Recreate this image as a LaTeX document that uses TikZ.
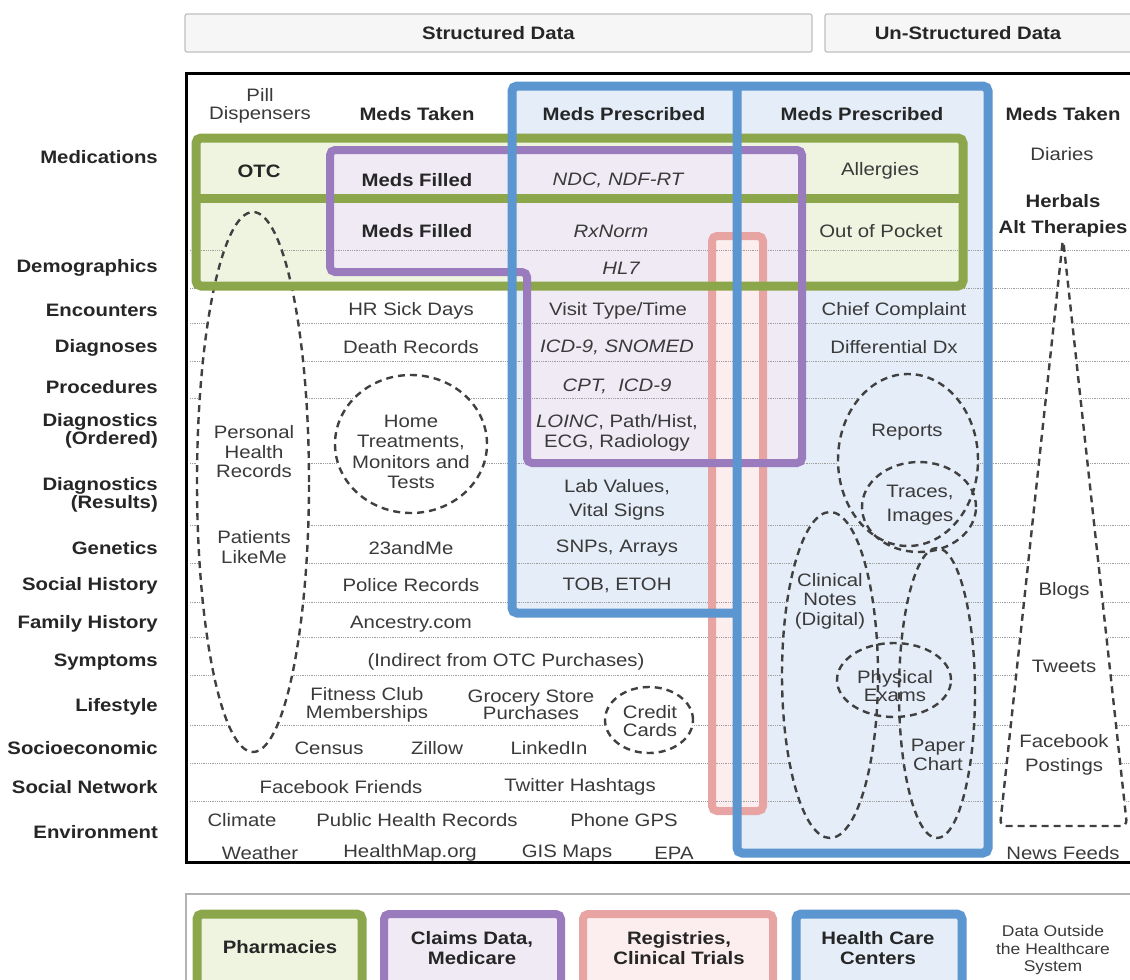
\documentclass[tikz,border=0pt]{standalone}
\usepackage{fontspec}
\setmainfont{Liberation Sans}[FakeStretch=1.13]
\definecolor{grnB}{HTML}{8CA64B}
\definecolor{grnF}{HTML}{EFF4E0}
\definecolor{purB}{HTML}{9A7CBE}
\definecolor{purF}{HTML}{EFEAF4}
\definecolor{bluB}{HTML}{5B96D0}
\definecolor{bluF}{HTML}{E4EDF8}
\definecolor{pnkB}{HTML}{E8A4A2}
\definecolor{pnkF}{HTML}{FCEEEE}
\definecolor{txt}{HTML}{3A3A3A}
\newcommand\myfs{\fontsize{18}{20.5}\selectfont}
\newcommand\mysmall{\fontsize{15.5}{18.5}\selectfont}
\begin{document}
\begin{tikzpicture}[x=1pt,y=-1pt,
  tx/.style={text=txt, font=\myfs, align=center, inner sep=0pt},
  bx/.style={tx, font=\myfs\bfseries, text=black!85},
  ix/.style={tx, font=\myfs\itshape},
  lab/.style={bx, anchor=east, align=right},
  dotline/.style={draw=gray!75, line width=1pt, dash pattern=on 0.9pt off 0.9pt},
  dsh/.style={draw=black!75, line width=2.4pt, dash pattern=on 7pt off 5pt},
  hdr/.style={draw=gray!50, fill=gray!7, line width=1.2pt, rounded corners=2pt, font=\myfs\bfseries, text=black!85, inner sep=0pt},
  grnline/.style={draw=grnB, line width=9pt, rounded corners=5pt},
  purline/.style={draw=purB, line width=8pt, rounded corners=5pt},
  bluline/.style={draw=bluB, line width=9pt, rounded corners=5pt},
  pnkline/.style={draw=pnkB, line width=8pt, rounded corners=5pt}
]
\clip (0,0) rectangle (1130,980);
\fill[white] (0,0) rectangle (1130,980);

% header boxes
\node[hdr, minimum width=627pt, minimum height=38pt] (hsd) at (498.5,33) {Structured Data};
\node[hdr, minimum width=320pt, minimum height=38pt] (hud) at (985,33) {};
\node[bx] (hudt) at (968,33) {Un-Structured Data};

% region fills (top-most colour wins)
\fill[bluF] (512,86) -- (988,86) -- (988,853) -- (737,853) -- (737,613) -- (512,613) -- cycle;
\fill[grnF] (196,138) rectangle (963,286);
\fill[purF] (330,150) -- (802,150) -- (802,463) -- (527,463) -- (527,272) -- (330,272) -- cycle;
\fill[pnkF] (712,236) rectangle (763,811);

% dotted grid lines
\foreach \yy in {250,288,323,361,398,463,525,563,602,637,675,725,763,801}
  \draw[dotline] (190,\yy) -- (1135,\yy);

% holes for dashed shapes, in the colour of the region behind them
\fill[white] (253,482) ellipse [x radius=56pt, y radius=270pt];
\begin{scope}
  \clip (253,482) ellipse [x radius=56pt, y radius=270pt];
  \fill[grnF] (196,138) rectangle (963,286);
\end{scope}
\fill[white] (411,444) ellipse [x radius=76pt, y radius=69pt];
\fill[white] (649,720) ellipse [x radius=44pt, y radius=33pt];
\fill[bluF] (908,460) ellipse [x radius=70pt, y radius=86pt];
\fill[bluF] (919,507) ellipse [x radius=57pt, y radius=45pt];
\fill[bluF] (830,675) ellipse [x radius=48pt, y radius=163pt];
\fill[bluF] (937,693) ellipse [x radius=38pt, y radius=145pt];
\fill[bluF] (894,680) ellipse [x radius=57pt, y radius=37pt];
\fill[white, rounded corners=6pt] (1063,238) -- (1000,826) -- (1127,826) -- cycle;

% dashed outlines
\draw[dsh] (253,482) ellipse [x radius=56pt, y radius=270pt];
\draw[dsh] (411,444) ellipse [x radius=76pt, y radius=69pt];
\draw[dsh] (649,720) ellipse [x radius=44pt, y radius=33pt];
\draw[dsh] (908,460) ellipse [x radius=70pt, y radius=86pt];
\draw[dsh] (919,507) ellipse [x radius=57pt, y radius=45pt];
\draw[dsh] (830,675) ellipse [x radius=48pt, y radius=163pt];
\draw[dsh] (937,693) ellipse [x radius=38pt, y radius=145pt];
\draw[dsh] (894,680) ellipse [x radius=57pt, y radius=37pt];
\draw[dsh, rounded corners=6pt] (1063,238) -- (1000,826) -- (1127,826) -- cycle;

% thick coloured outlines
\draw[pnkline] (712,236) rectangle (763,811);
\draw[grnline] (196,138) rectangle (963,286);
\draw[draw=grnB, line width=9pt] (196,198) -- (963,198);
\draw[purline] (330,150) -- (802,150) -- (802,463) -- (527,463) -- (527,272) -- (330,272) -- cycle;
\draw[bluline] (737,613) -- (512,613) -- (512,86) -- (988,86) -- (988,853) -- (737,853) -- (737,86);

% main frame
\draw[line width=3pt] (186,73) rectangle (1145,862);

% row labels
\node[lab] (lmed) at (158,157) {Medications};
\node[lab] (ldem) at (158,268) {Demographics};
\node[lab] (lenc) at (158,310) {Encounters};
\node[lab] (ldia) at (158,348) {Diagnoses};
\node[lab] (lpro) at (158,387) {Procedures};
\node[lab] (ldo) at (158,431) {Diagnostics\\[-3pt](Ordered)};
\node[lab] (ldr) at (158,495) {Diagnostics\\[-3pt](Results)};
\node[lab] (lgen) at (158,548) {Genetics};
\node[lab] (lsh) at (158,586) {Social History};
\node[lab] (lfh) at (158,624) {Family History};
\node[lab] (lsym) at (158,662) {Symptoms};
\node[lab] (llif) at (158,707) {Lifestyle};
\node[lab] (lsoc) at (158,748) {Socioeconomic};
\node[lab] (lsn) at (158,787) {Social Network};
\node[lab] (lenv) at (158,832) {Environment};

% column heads
\node[tx] (pill) at (260,106) {Pill\\[-3pt]Dispensers};
\node[bx] (mt1) at (417,114) {Meds Taken};
\node[bx] (mp1) at (624,114) {Meds Prescribed};
\node[bx] (mp2) at (862,114) {Meds Prescribed};
\node[bx] (mt2) at (1063,114) {Meds Taken};

% medication rows
\node[bx] (otc) at (259,171) {OTC};
\node[bx] (mf1) at (417,180) {Meds Filled};
\node[ix] (ndc) at (618,180) {NDC, NDF-RT};
\node[tx] (all) at (880,171) {Allergies};
\node[tx] (dia) at (1062,154) {Diaries};
\node[bx] (herb) at (1063,201) {Herbals};
\node[bx] (alt) at (1063,229) {Alt Therapies};
\node[bx] (mf2) at (417,231) {Meds Filled};
\node[ix] (rxn) at (611,231) {RxNorm};
\node[tx] (oop) at (881,231) {Out of Pocket};
\node[ix] (hl7) at (621,268) {HL7};

% clinical rows
\node[tx] (hrs) at (411,311) {HR Sick Days};
\node[tx] (vis) at (618,311) {Visit Type/Time};
\node[tx] (chf) at (894,311) {Chief Complaint};
\node[tx] (dth) at (411,347) {Death Records};
\node[ix] (icd) at (617,347) {ICD-9, SNOMED};
\node[tx] (dif) at (894,347) {Differential Dx};
\node[ix] (cpt) at (617,386) {CPT,\ \ ICD-9};
\node[tx] (loi) at (617,433) {{\itshape LOINC}, Path/Hist,\\[-1pt]ECG, Radiology};
\node[tx] (home) at (411,452) {Home\\Treatments,\\Monitors and\\Tests};
\node[tx] (phr) at (254,452) {Personal\\[-1pt]Health\\[-1pt]Records};
\node[tx] (plm) at (254,547) {Patients\\[-1pt]LikeMe};
\node[tx] (rep) at (907,432) {Reports};
\node[tx] (trc) at (920,505) {Traces,\\[3pt]Images};
\node[tx] (lab) at (617,500) {Lab Values,\\[3pt]Vital Signs};
\node[tx] (23m) at (411,548) {23andMe};
\node[tx] (snp) at (617,548) {SNPs, Arrays};
\node[tx] (pol) at (411,585) {Police Records};
\node[tx] (tob) at (617,585) {TOB, ETOH};
\node[tx] (cln) at (830,601) {Clinical\\[-1pt]Notes\\[-1pt](Digital)};
\node[tx] (blg) at (1064,591) {Blogs};
\node[tx] (anc) at (411,624) {Ancestry.com};
\node[tx] (ind) at (506,662) {(Indirect from OTC Purchases)};
\node[tx] (twt) at (1064,666) {Tweets};
\node[tx] (phy) at (895,686) {Physical\\[-3pt]Exams};
\node[tx] (fit) at (367,705) {Fitness Club\\[-3pt]Memberships};
\node[tx] (gro) at (531,705) {Grocery Store\\[-3pt]Purchases};
\node[tx] (crd) at (650,721) {Credit\\[-2pt]Cards};
\node[tx] (cen) at (329,748) {Census};
\node[tx] (zil) at (437,748) {Zillow};
\node[tx] (lnk) at (549,748) {LinkedIn};
\node[tx] (pap) at (938,755) {Paper\\[-1pt]Chart};
\node[tx] (fbp) at (1064,755) {Facebook\\[4pt]Postings};
\node[tx] (fbf) at (341,787) {Facebook Friends};
\node[tx] (twh) at (580,787) {Twitter Hashtags};
\node[tx] (cli) at (242,820) {Climate};
\node[tx] (phrec) at (417,820) {Public Health Records};
\node[tx] (gps) at (624,820) {Phone GPS};
\node[tx] (wea) at (260,853) {Weather};
\node[tx] (hmap) at (410,853) {HealthMap.org};
\node[tx] (gis) at (567,853) {GIS Maps};
\node[tx] (epa) at (674,853) {EPA};
\node[tx] (nws) at (1063,853) {News Feeds};

% legend
\draw[draw=gray!60, line width=2pt] (186,894) rectangle (1145,1000);
\draw[grnline, fill=grnF] (197,914) rectangle (362,995);
\draw[purline, fill=purF] (384,914) rectangle (561,995);
\draw[pnkline, fill=pnkF] (583,914) rectangle (773,995);
\draw[bluline, fill=bluF] (796,914) rectangle (962,995);
\node[bx] (gph) at (280,947) {Pharmacies};
\node[bx] (gcl) at (472,948) {Claims Data,\\[-1pt]Medicare};
\node[bx] (grg) at (679,948) {Registries,\\[-1pt]Clinical Trials};
\node[bx] (ghc) at (878,948) {Health Care\\[-1pt]Centers};
\node[tx, font=\mysmall] (gout) at (1053,950) {Data Outside\\[-1pt]the Healthcare\\[-1pt]System};
\end{tikzpicture}
\end{document}
